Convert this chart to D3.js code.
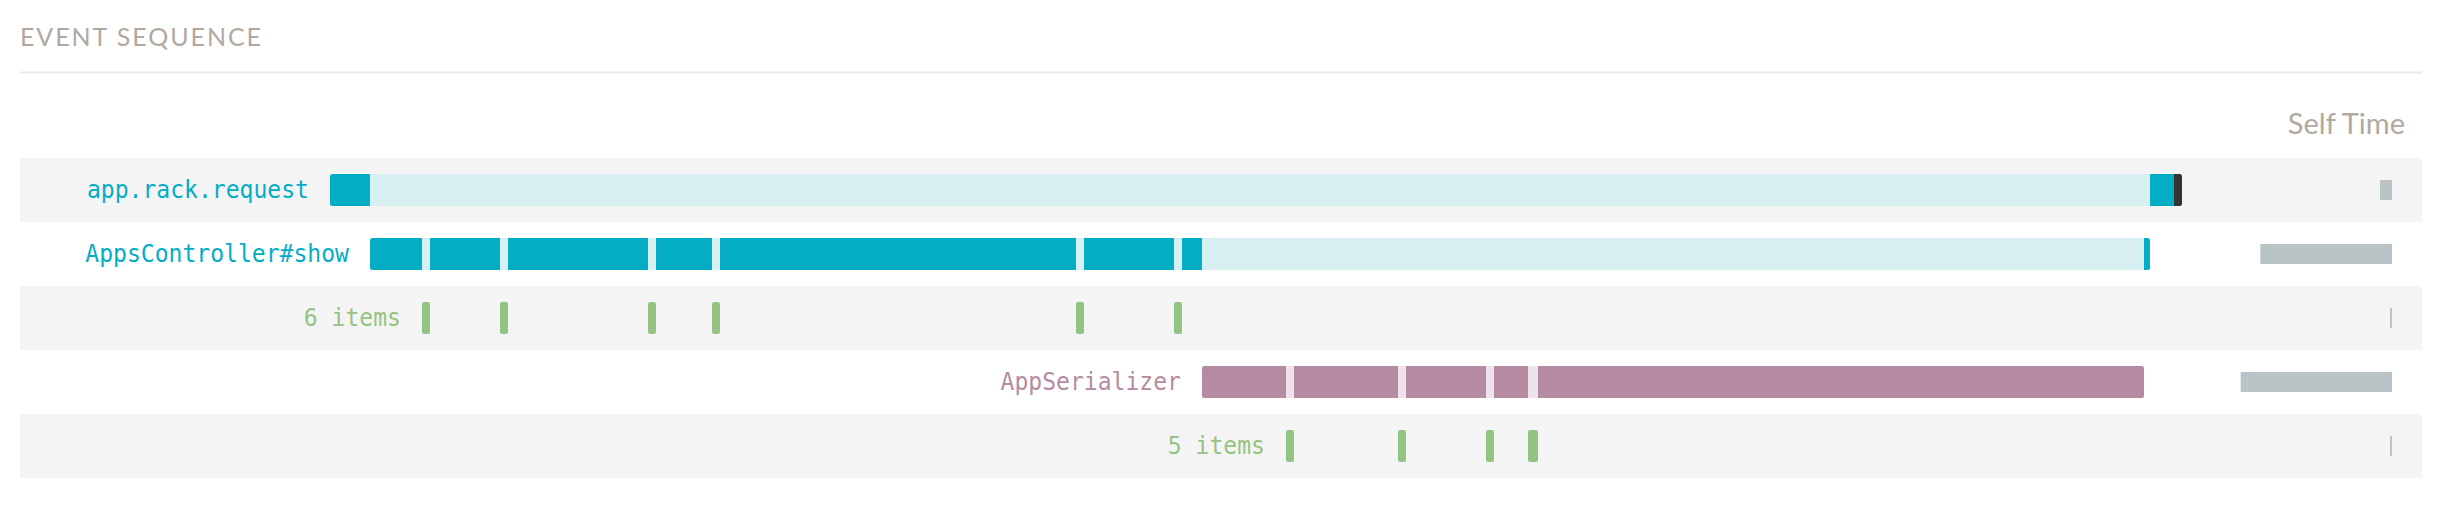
<!DOCTYPE html>
<html>
<head>
<meta charset="utf-8">
<script src="https://cdn.jsdelivr.net/npm/d3@7"></script>
<style>
  html, body { margin: 0; padding: 0; background: #ffffff; }
  svg { display: block; }
</style>
</head>
<body>
<svg id="chart" width="2444" height="506"></svg>
<script>
// ---------------- data (times in ms) ----------------
const rowLabels = ["app.rack.request", "AppsController#show", "6 items", "AppSerializer", "5 items"];
const rowKinds  = ["span", "span", "items", "span", "items"];
const rowColors = ["teal", "teal", "green", "mauve", "green"];

const spanStart = [0, 10, null, 218, null];
const spanEnd   = [463, 455, null, 453.5, null];

const requestSelf    = [[0, 10], [455, 461]];
const requestTail    = [[461, 463]];
const controllerSelf = [[10, 23], [25, 42.5], [44.5, 79.5], [81.5, 95.5], [97.5, 186.5], [188.5, 211], [213, 218], [453.5, 455]];
const serializerSelf = [[218, 239], [241, 267], [269, 289], [291, 299.5], [302, 453.5]];

const controllerItems = [23, 42.5, 79.5, 95.5, 186.5, 211];
const serializerItems = [239, 267, 289, 299.5, 300];
const itemDuration = 2;

const selfTimes = [18, 197.5, 3, 227, 3];

const titleText = "EVENT SEQUENCE";
const selfTimeHeader = "Self Time";

// ---------------- styles ----------------
const palette = {
  teal:  { dark: "#02adc5", light: "#d9f0f3" },
  mauve: { dark: "#b48ba3", light: "#ede3ea" },
  green: { dark: "#94c383" }
};
const tailColor = "#333535";
const selfBarColor = "#bac3c6";
const rowBg = "#f4f4f4";

const svg = d3.select("#chart");

const rowTop = 158, rowH = 64, barH = 32, bgX0 = 20, bgX1 = 2422;
const x = d3.scaleLinear().domain([0, 463]).range([330, 2182]);
const y = d3.scaleBand().domain(d3.range(rowLabels.length)).range([rowTop, rowTop + rowH * rowLabels.length]).padding(0);
const selfRight = 2392;
const s = d3.scaleLinear().domain([0, 300]).range([0, 200]);
const charW = 13.88;

// title
svg.append("text")
  .attr("x", 20).attr("y", 46)
  .attr("font-family", "Lato, 'Open Sans', sans-serif")
  .attr("font-size", 25).attr("font-weight", 400)
  .attr("fill", "#b1a9a1")
  .attr("textLength", 241).attr("lengthAdjust", "spacing")
  .text(titleText);

svg.append("rect")
  .attr("x", 20).attr("y", 71.5).attr("width", bgX1 - 20).attr("height", 2)
  .attr("fill", "#e9e9e9");

svg.append("text")
  .attr("x", 2405).attr("y", 134)
  .attr("text-anchor", "end")
  .attr("font-family", "Lato, 'Open Sans', sans-serif")
  .attr("font-size", 29).attr("font-weight", 400)
  .attr("fill", "#b1a9a1")
  .text(selfTimeHeader);

// row backgrounds
svg.append("g").selectAll("rect")
  .data(d3.range(rowLabels.length).filter(i => i % 2 === 0))
  .join("rect")
  .attr("x", bgX0).attr("y", i => y(i))
  .attr("width", bgX1 - bgX0).attr("height", y.bandwidth())
  .attr("fill", rowBg);

const defs = svg.append("defs");
const barY = i => y(i) + (y.bandwidth() - barH) / 2;

const segmentsByRow = [requestSelf, controllerSelf, null, serializerSelf, null];
const itemsByRow = [null, null, controllerItems, null, serializerItems];

rowLabels.forEach((label, i) => {
  const g = svg.append("g");
  const col = palette[rowColors[i]];
  let labelRight;
  if (rowKinds[i] === "span") {
    const x0 = x(spanStart[i]), x1 = x(spanEnd[i]);
    labelRight = x0 - 21;
    defs.append("clipPath").attr("id", "clip" + i)
      .append("rect")
      .attr("x", x0).attr("y", barY(i)).attr("width", x1 - x0).attr("height", barH).attr("rx", 2.5);
    const cg = g.append("g").attr("clip-path", `url(#clip${i})`);
    cg.append("rect")
      .attr("x", x0).attr("y", barY(i)).attr("width", x1 - x0).attr("height", barH)
      .attr("fill", col.light);
    cg.selectAll("rect.seg")
      .data(segmentsByRow[i])
      .join("rect").attr("class", "seg")
      .attr("x", d => x(d[0])).attr("y", barY(i))
      .attr("width", d => x(d[1]) - x(d[0])).attr("height", barH)
      .attr("fill", col.dark);
    if (i === 0) {
      cg.selectAll("rect.tail")
        .data(requestTail)
        .join("rect").attr("class", "tail")
        .attr("x", d => x(d[0])).attr("y", barY(i))
        .attr("width", d => x(d[1]) - x(d[0])).attr("height", barH)
        .attr("fill", tailColor);
    }
  } else {
    const items = itemsByRow[i];
    labelRight = x(d3.min(items)) - 21;
    g.selectAll("rect.item")
      .data(items)
      .join("rect").attr("class", "item")
      .attr("x", d => x(d)).attr("y", barY(i))
      .attr("width", x(itemDuration) - x(0)).attr("height", barH)
      .attr("rx", 2)
      .attr("fill", col.dark);
  }
  g.append("text")
    .attr("x", labelRight).attr("y", y(i) + y.bandwidth() / 2 + 8)
    .attr("text-anchor", "end")
    .attr("font-family", "'DejaVu Sans Mono', 'Liberation Mono', monospace")
    .attr("font-size", 25)
    .attr("textLength", label.length * charW)
    .attr("lengthAdjust", "spacingAndGlyphs")
    .attr("fill", col.dark)
    .text(label);
});

// self time bars
svg.append("g").selectAll("rect")
  .data(selfTimes)
  .join("rect")
  .attr("x", d => selfRight - Math.max(2, s(d)))
  .attr("y", (d, i) => y(i) + y.bandwidth() / 2 - 10)
  .attr("width", d => Math.max(2, s(d)))
  .attr("height", 20)
  .attr("fill", selfBarColor);
</script>
</body>
</html>
